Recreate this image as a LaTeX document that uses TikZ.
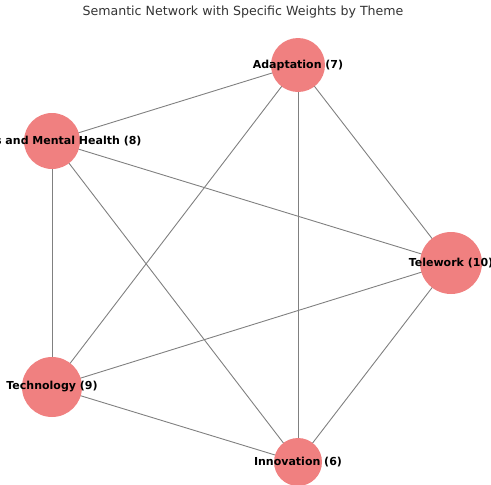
\documentclass[tikz,border=0pt]{standalone}
\usepackage{fontspec}
\setmainfont{DejaVu Sans}
\usetikzlibrary{backgrounds}
\definecolor{nodefill}{HTML}{F08080}
\definecolor{edgegray}{HTML}{808080}
\definecolor{titlegray}{HTML}{333333}
\tikzset{
  themenode/.style={circle, fill=nodefill, draw=none, inner sep=0pt, minimum size=#1},
  themelabel/.style={font=\fontsize{11}{12}\selectfont\bfseries, text=black, inner sep=0pt},
  edge/.style={draw=edgegray, line width=0.9pt}
}
\begin{document}
\begin{tikzpicture}[x=1pt,y=-1pt]
\useasboundingbox (0,0) rectangle (491,485);
\clip (0,0) rectangle (491,485);
\node[font=\fontsize{12.6}{14}\selectfont, text=titlegray] (title) at (243,12) {Semantic Network with Specific Weights by Theme};
\node[themenode=54pt] (ada) at (298,65) {};
\node[themenode=56pt] (mh) at (52,141) {};
\node[themenode=62pt] (tel) at (451,263) {};
\node[themenode=60pt] (tec) at (52,387) {};
\node[themenode=48pt] (inn) at (298,462) {};
\begin{scope}[on background layer]
\foreach \a/\b in {ada/mh, ada/tel, ada/tec, ada/inn, mh/tel, mh/tec, mh/inn, tel/tec, tel/inn, tec/inn}
  \draw[edge] (\a.center) -- (\b.center);
\end{scope}
\node[themelabel] (adal) at (ada.center) {Adaptation (7)};
\node[themelabel] (mhl) at (mh.center) {Stress and Mental Health (8)};
\node[themelabel] (tell) at (tel.center) {Telework (10)};
\node[themelabel] (tecl) at (tec.center) {Technology (9)};
\node[themelabel] (innl) at (inn.center) {Innovation (6)};
\end{tikzpicture}
\end{document}
